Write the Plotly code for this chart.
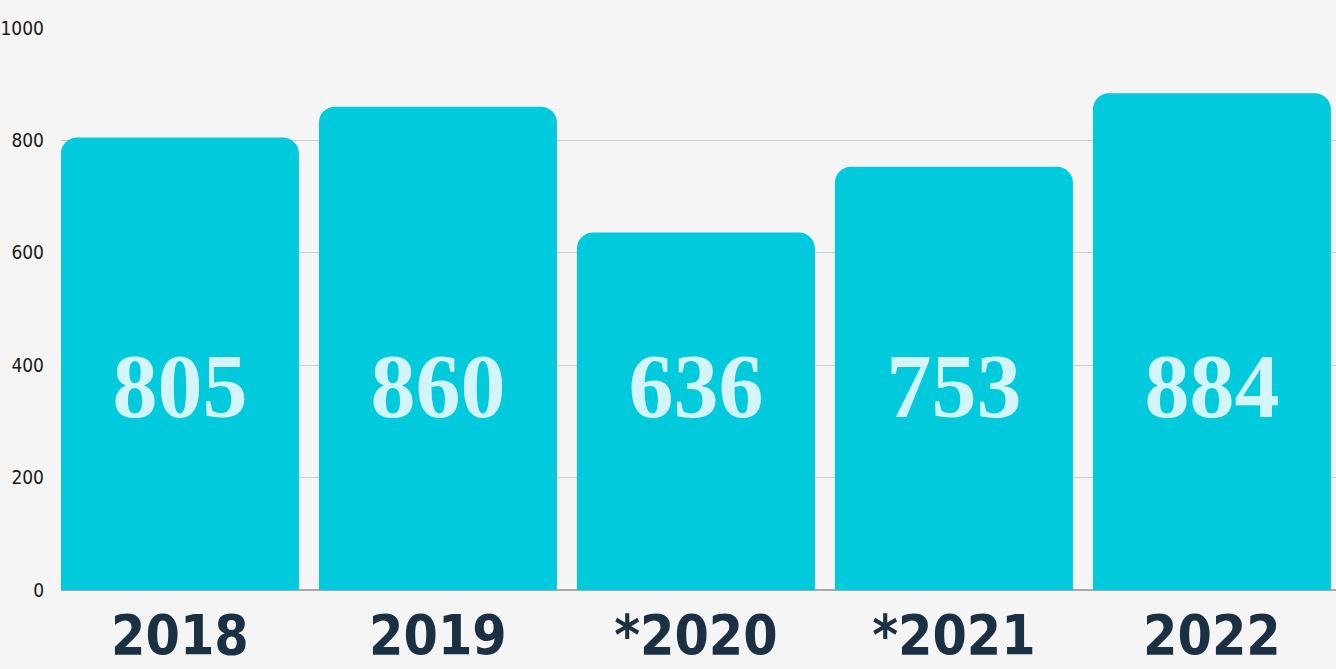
import plotly.graph_objects as go

categories = ["2018", "2019", "*2020", "*2021", "2022"]
values = [805, 860, 636, 753, 884]
value_labels = ["805", "860", "636", "753", "884"]
y_ticks = [0, 200, 400, 600, 800, 1000]

BAR = "#00CADC"
LABEL = "#D3F4F8"
NAVY = "#1B3043"
BG = "#F5F5F5"

fig = go.Figure()
fig.add_trace(go.Bar(
    x=categories, y=values,
    marker=dict(color=BAR, cornerradius=16, line=dict(width=0)),
    hoverinfo="skip",
))
fig.add_trace(go.Scatter(
    x=categories, y=[347] * len(categories),
    mode="text", text=value_labels,
    textposition="middle center",
    textfont=dict(family="Liberation Serif, DejaVu Serif, serif", size=90, color=LABEL, weight="bold"),
    hoverinfo="skip",
))

fig.update_layout(
    width=1336, height=669,
    paper_bgcolor=BG, plot_bgcolor=BG,
    margin=dict(l=61, r=0, t=28, b=79, autoexpand=False),
    showlegend=False,
    bargap=20 / 258,
    xaxis=dict(
        type="category",
        range=[-0.461, 4.481],
        automargin=False,
        showgrid=False,
        showline=False,
        zeroline=False,
        ticks="",
        tickfont=dict(family="DejaVu Sans Condensed, sans-serif", size=55, color=NAVY, weight="bold"),
        ticklabelstandoff=8,
    ),
    yaxis=dict(
        range=[0, 1000],
        automargin=False,
        tickvals=y_ticks,
        ticktext=[str(v) for v in y_ticks],
        showgrid=True, gridcolor="#CFCFCF", gridwidth=1,
        zeroline=True, zerolinecolor="#A8A8A8", zerolinewidth=2,
        showline=False, ticks="",
        tickfont=dict(family="DejaVu Sans Condensed, sans-serif", size=19, color="#1A1A1A"),
        ticklabelstandoff=16,
    ),
)

fig.write_html("out.html", config={"displayModeBar": False})
with open("out.html", encoding="utf-8") as f:
    html = f.read()
html = html.replace("<body>", '<body style="margin:0;padding:0;overflow:hidden">', 1)
with open("out.html", "w", encoding="utf-8") as f:
    f.write(html)
